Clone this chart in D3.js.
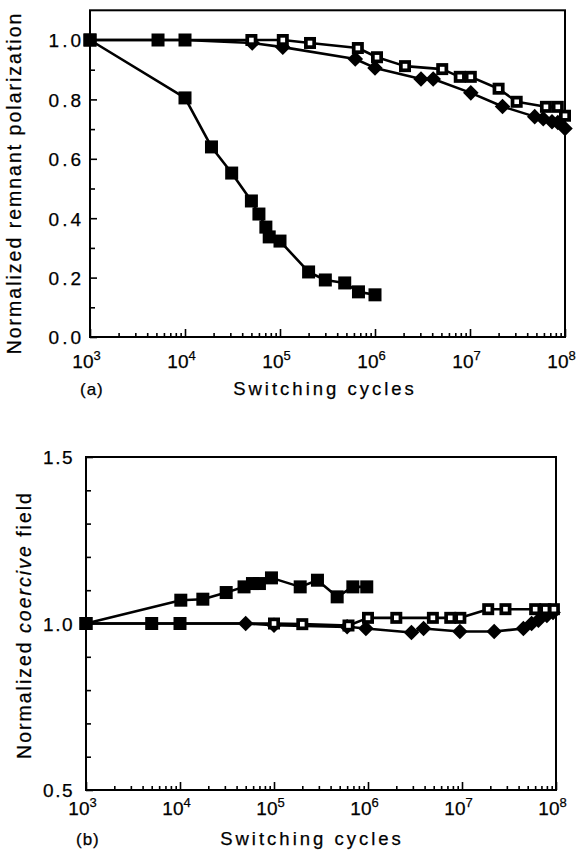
<!DOCTYPE html>
<html>
<head>
<meta charset="utf-8">
<script src="https://cdn.jsdelivr.net/npm/d3@7"></script>
<style>
  body { margin: 0; background: #fff; }
  svg { display: block; }
  text { font-family: "Liberation Sans", Arial, sans-serif; fill: #000; stroke: #000; stroke-width: 0.25px; }
</style>
</head>
<body>
<svg id="chart" width="581" height="852"></svg>
<script>
// ---- data (a): normalized remnant polarization ----
const baseA_x = [1e3, 5.2e3, 1e4];
const baseA_y = [1.0, 1.0, 1.0];
const fastA_x = [1e3, 1e4, 1.9e4, 3.1e4, 5e4, 6e4, 7.1e4, 7.7e4, 1e5, 2e5, 3e5, 4.8e5, 6.7e5, 1e6];
const fastA_y = [1.0, 0.805, 0.64, 0.552, 0.458, 0.414, 0.37, 0.337, 0.323, 0.219, 0.192, 0.182, 0.152, 0.142];
const openA_x = [5e4, 1.07e5, 2.07e5, 6.6e5, 1.05e6, 2.07e6, 5.1e6, 7.8e6, 1.02e7, 2e7, 3.1e7, 6.3e7, 8.4e7, 1e8];
const openA_y = [1.0, 1.0, 0.99, 0.973, 0.942, 0.912, 0.902, 0.876, 0.876, 0.836, 0.792, 0.775, 0.775, 0.745];
const diaA_x = [5.1e4, 1.07e5, 6.2e5, 1e6, 3.05e6, 4.1e6, 1.02e7, 2.2e7, 4.8e7, 5.9e7, 7.3e7, 8.4e7, 1e8];
const diaA_y = [0.99, 0.976, 0.936, 0.906, 0.869, 0.869, 0.822, 0.776, 0.742, 0.735, 0.725, 0.722, 0.702];

// ---- data (b): normalized coercive field ----
const baseB_x = [1e3, 5e3, 1e4];
const baseB_y = [1.0, 1.0, 1.0];
const fastB_x = [1e3, 1.02e4, 1.75e4, 3.1e4, 4.8e4, 5.9e4, 7e4, 9.4e4, 1.9e5, 2.9e5, 4.7e5, 6.9e5, 9.7e5];
const fastB_y = [1.0, 1.07, 1.073, 1.093, 1.11, 1.12, 1.12, 1.137, 1.11, 1.13, 1.08, 1.11, 1.11];
const openB_x = [1e5, 2e5, 6.2e5, 1e6, 2e6, 4.9e6, 7.5e6, 9.6e6, 1.9e7, 2.9e7, 6e7, 7.7e7, 9.5e7];
const openB_y = [1.0, 0.998, 0.994, 1.017, 1.017, 1.017, 1.017, 1.017, 1.043, 1.043, 1.043, 1.043, 1.043];
const diaB_x = [5e4, 1e5, 6e5, 9.5e5, 2.9e6, 3.9e6, 9.5e6, 2.2e7, 4.5e7, 5.5e7, 6.5e7, 8e7, 9.3e7];
const diaB_y = [1.0, 0.995, 0.99, 0.985, 0.973, 0.985, 0.976, 0.976, 0.985, 1.0, 1.01, 1.024, 1.033];

// axis ticks
const decades = [1e3, 1e4, 1e5, 1e6, 1e7, 1e8];
const minorX = [];
[1e3, 1e4, 1e5, 1e6, 1e7].forEach(d => { for (let k = 2; k <= 9; k++) minorX.push(k * d); });
const majorA = [0, 0.2, 0.4, 0.6, 0.8, 1.0];
const minorA = [0.1, 0.3, 0.5, 0.7, 0.9];
const majorB = [0.5, 1.0, 1.5];
const minorB = [0.6, 0.7, 0.8, 0.9, 1.1, 1.2, 1.3, 1.4];

const zip = (xs, ys) => xs.map((x, i) => ({x: x, y: ys[i]}));

const svg = d3.select('#chart');

function panel(o) {
  const x = d3.scaleLog().domain([1e3, 1e8]).range([o.left, o.right]);
  const y = d3.scaleLinear().domain(o.yDomain).range([o.bottom, o.top]);
  const g = svg.append('g');

  // minor x ticks
  g.append('g').attr('transform', `translate(0,${o.bottom})`)
    .call(d3.axisBottom(x).tickValues(minorX).tickSize(-4).tickFormat(''))
    .call(a => a.select('.domain').remove());
  // decade ticks + labels
  const xa = g.append('g').attr('transform', `translate(0,${o.bottom})`)
    .call(d3.axisBottom(x).tickValues(decades).tickSize(-8))
    .call(a => a.select('.domain').remove());
  xa.selectAll('.tick text').each(function(d) {
    const t = d3.select(this).text(null)
      .attr('y', o.xLabY).attr('dy', null).attr('x', -4)
      .attr('font-size', 19).attr('text-anchor', 'middle');
    t.append('tspan').text('10');
    t.append('tspan').text(Math.round(Math.log10(d)))
      .attr('font-size', 13).attr('dy', -8);
  });

  // y ticks
  g.append('g').attr('transform', `translate(${o.left},0)`)
    .call(d3.axisLeft(y).tickValues(o.yMinor).tickSize(-5).tickFormat(''))
    .call(a => a.select('.domain').remove());
  const ya = g.append('g').attr('transform', `translate(${o.left},0)`)
    .call(d3.axisLeft(y).tickValues(o.yMajor).tickSize(-7).tickPadding(o.yPad).tickFormat(d3.format('.1f')))
    .call(a => a.select('.domain').remove());
  ya.selectAll('.tick text').attr('font-size', 19).attr('letter-spacing', o.ySpace).attr('dy', '0.36em');
  g.selectAll('.tick line').attr('stroke', '#000').attr('stroke-width', 1.6);

  // frame
  g.append('rect').attr('x', o.left).attr('y', o.top)
    .attr('width', o.right - o.left).attr('height', o.bottom - o.top)
    .attr('fill', 'none').attr('stroke', '#000').attr('stroke-width', 2);

  const line = d3.line().x(d => x(d.x)).y(d => y(d.y));
  const base = zip(o.base[0], o.base[1]);
  const fast = zip(o.fast[0], o.fast[1]);
  const open = zip(o.open[0], o.open[1]);
  const dia = zip(o.dia[0], o.dia[1]);

  [fast, base.concat(open), base.concat(dia)].forEach(s => {
    g.append('path').attr('d', line(s)).attr('fill', 'none')
      .attr('stroke', '#000').attr('stroke-width', 2.6).attr('stroke-linejoin', 'round');
  });

  // diamonds
  g.selectAll('.dia').data(dia).enter().append('rect')
    .attr('x', -5.5).attr('y', -5.5).attr('width', 11).attr('height', 11)
    .attr('transform', d => `translate(${x(d.x)},${y(d.y)}) rotate(45)`)
    .attr('fill', '#000');
  // filled squares
  g.selectAll('.sq').data(base.concat(fast)).enter().append('rect')
    .attr('x', d => x(d.x) - 6.5).attr('y', d => y(d.y) - 6.5)
    .attr('width', 13).attr('height', 13).attr('fill', '#000');
  // open squares
  const os = g.selectAll('.os').data(open).enter().append('g')
    .attr('transform', d => `translate(${x(d.x)},${y(d.y)})`);
  os.append('rect').attr('x', -6).attr('y', -6).attr('width', 12).attr('height', 12).attr('fill', '#000');
  os.append('rect').attr('x', -2.3).attr('y', -2.3).attr('width', 4.6).attr('height', 4.6).attr('fill', '#fff');

  // titles
  g.append('text').attr('x', o.titleX).attr('y', o.titleY)
    .attr('text-anchor', 'middle').attr('font-size', 18.5).attr('letter-spacing', 3)
    .text('Switching cycles');
  g.append('text').attr('x', o.tagX).attr('y', o.titleY)
    .attr('font-size', 17).attr('letter-spacing', 1).text(o.tag);
  const yl = g.append('text')
    .attr('transform', `translate(${o.yTitleX},${o.yTitleY}) rotate(-90)`)
    .attr('text-anchor', 'middle').attr('font-size', 19.5).attr('letter-spacing', 2);
  o.yTitle.forEach(p => yl.append('tspan').text(p[0]).attr('font-style', p[1] ? 'italic' : null));
}

panel({
  left: 90, right: 565, top: 10.3, bottom: 337, yDomain: [0, 1.1],
  yMajor: majorA, yMinor: minorA, yPad: 6, ySpace: 3, xLabY: 31,
  base: [baseA_x, baseA_y], fast: [fastA_x, fastA_y], open: [openA_x, openA_y], dia: [diaA_x, diaA_y],
  titleX: 325, titleY: 395, tagX: 80, tag: '(a)',
  yTitleX: 21, yTitleY: 183, yTitle: [['Normalized remnant polarization', false]]
});

panel({
  left: 86, right: 556, top: 457, bottom: 790, yDomain: [0.5, 1.5],
  yMajor: majorB, yMinor: minorB, yPad: 12, ySpace: 1.5, xLabY: 25,
  base: [baseB_x, baseB_y], fast: [fastB_x, fastB_y], open: [openB_x, openB_y], dia: [diaB_x, diaB_y],
  titleX: 312, titleY: 845, tagX: 76, tag: '(b)',
  yTitleX: 31, yTitleY: 625, yTitle: [['Normalized ', false], ['coercive', true], [' field', false]]
});
</script>
</body>
</html>
